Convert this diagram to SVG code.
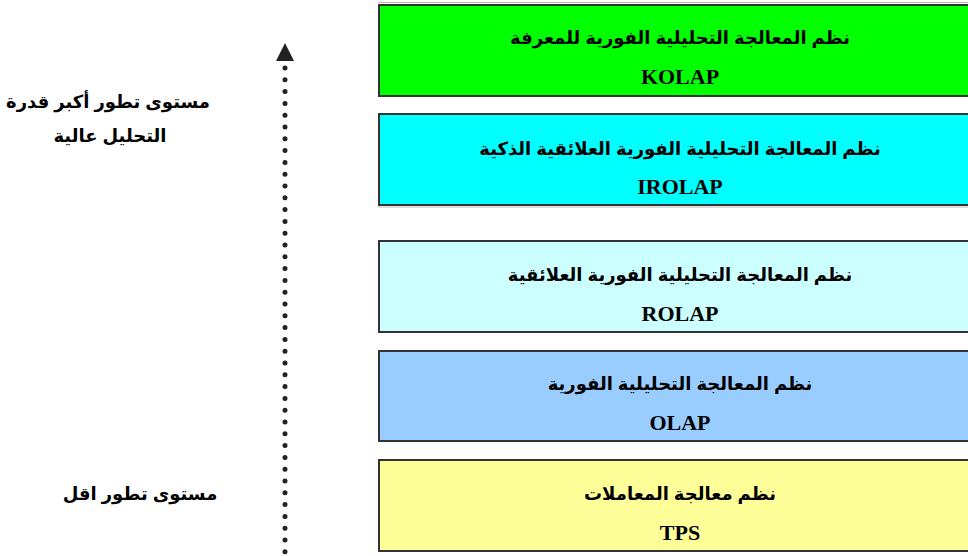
<svg xmlns="http://www.w3.org/2000/svg" width="968" height="556" viewBox="0 0 968 556">
<style>
.box{stroke:#333;stroke-width:2}
.ar{font-family:"Liberation Sans","DejaVu Sans",sans-serif;font-weight:bold;font-size:18px;fill:#000;text-anchor:middle}
.en{font-family:"Liberation Serif","DejaVu Serif",serif;font-weight:bold;font-size:22px;fill:#000;text-anchor:middle}
.shadow{stroke:#bbb;stroke-width:1}
</style>
<rect width="968" height="556" fill="#fff"/>
<g id="connectors">
<line x1="285" y1="68" x2="285" y2="556" stroke="#222" stroke-width="5" stroke-linecap="round" stroke-dasharray="0 11.8"/>
<polygon points="285,43 276,61 294,61" fill="#222"/>
</g>
<g id="label-high">
<text class="ar" x="108" y="108">مستوى تطور أكبر قدرة</text>
<text class="ar" x="110" y="142">التحليل عالية</text>
</g>
<g id="label-low">
<text class="ar" x="140" y="500">مستوى تطور اقل</text>
</g>
<g id="kolap">
<line class="shadow" x1="378" y1="2.5" x2="968" y2="2.5"/>
<rect class="box" x="379" y="5" width="600" height="91" fill="#00ff00" stroke="#000"/>
<text class="ar" x="680" y="44">نظم المعالجة التحليلية الفورية للمعرفة</text>
<text class="en" x="680" y="84">KOLAP</text>
</g>
<g id="irolap">
<rect class="box" x="379" y="114" width="600" height="91" fill="#00ffff"/>
<line class="shadow" x1="378" y1="207" x2="968" y2="207"/>
<text class="ar" x="680" y="155">نظم المعالجة التحليلية الفورية العلائقية الذكية</text>
<text class="en" x="680" y="194">IROLAP</text>
</g>
<g id="rolap">
<rect class="box" x="379" y="241" width="600" height="91" fill="#ccffff"/>
<text class="ar" x="680" y="281">نظم المعالجة التحليلية الفورية العلائقية</text>
<text class="en" x="680" y="321">ROLAP</text>
</g>
<g id="olap">
<rect class="box" x="379" y="351" width="600" height="90" fill="#99ccff"/>
<text class="ar" x="680" y="390">نظم المعالجة التحليلية الفورية</text>
<text class="en" x="680" y="430">OLAP</text>
</g>
<g id="tps">
<rect class="box" x="379" y="460" width="600" height="91" fill="#ffff99"/>
<text class="ar" x="680" y="500">نظم معالجة المعاملات</text>
<text class="en" x="680" y="540">TPS</text>
</g>
</svg>
